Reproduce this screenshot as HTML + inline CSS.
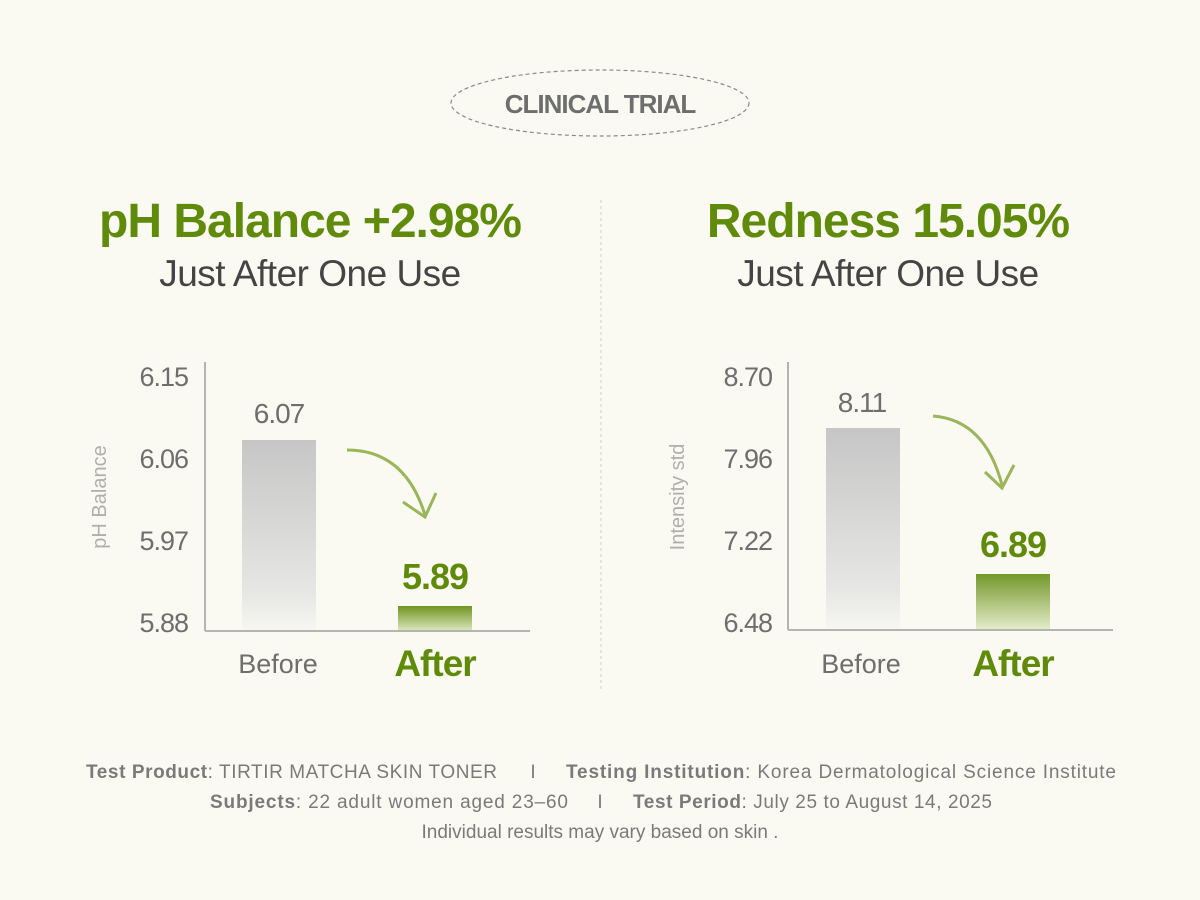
<!DOCTYPE html>
<html><head><meta charset="utf-8"><style>
body{margin:0;background:#fafaf3;}
svg{display:block;font-family:"Liberation Sans",sans-serif;}
</style></head><body>
<svg width="1200" height="900" viewBox="0 0 1200 900">
<defs>
<linearGradient id="g1" x1="0" y1="0" x2="0" y2="1"><stop offset="0" stop-color="#c6c6c6"/><stop offset="0.8" stop-color="#e6e6e4"/><stop offset="1" stop-color="#f6f6f2"/></linearGradient>
<linearGradient id="g2" x1="0" y1="0" x2="0" y2="1"><stop offset="0" stop-color="#6f9420"/><stop offset="1" stop-color="#d8e4b8"/></linearGradient>
<linearGradient id="g3" x1="0" y1="0" x2="0" y2="1"><stop offset="0" stop-color="#74982a"/><stop offset="1" stop-color="#e2ebc8"/></linearGradient>
</defs>
<rect width="1200" height="900" fill="#fafaf3"/>
<ellipse cx="600" cy="103" rx="149" ry="33" fill="none" stroke="#8a8a8a" stroke-width="1.2" stroke-dasharray="4,3"/>
<text x="600" y="113" text-anchor="middle" font-size="26" font-weight="bold" fill="#6e6e6e" letter-spacing="-1">CLINICAL TRIAL</text>
<line x1="601" y1="200" x2="601" y2="690" stroke="#d0d0c8" stroke-dasharray="3,3"/>
<text x="310" y="237" text-anchor="middle" font-size="48" font-weight="bold" fill="#5f8a0a" letter-spacing="-1">pH Balance +2.98%</text>
<text x="310" y="286" text-anchor="middle" font-size="37" fill="#444" letter-spacing="-0.5">Just After One Use</text>
<text x="888" y="237" text-anchor="middle" font-size="48" font-weight="bold" fill="#5f8a0a" letter-spacing="-1">Redness 15.05%</text>
<text x="888" y="286" text-anchor="middle" font-size="37" fill="#444" letter-spacing="-0.5">Just After One Use</text>
<!-- left chart -->
<g font-size="27" fill="#6e6e6e" text-anchor="end" letter-spacing="-1">
<text x="188" y="386">6.15</text><text x="188" y="468">6.06</text><text x="188" y="550">5.97</text><text x="188" y="632">5.88</text>
</g>
<text transform="translate(106,497) rotate(-90)" text-anchor="middle" font-size="20" fill="#b0b0aa">pH Balance</text>
<line x1="205" y1="362" x2="205" y2="631" stroke="#b5b5b0" stroke-width="2"/>
<line x1="205" y1="631" x2="530" y2="631" stroke="#b5b5b0" stroke-width="2"/>
<rect x="242" y="440" width="74" height="190" fill="url(#g1)"/>
<rect x="398" y="606" width="74" height="24" fill="url(#g2)"/>
<text x="279" y="423" text-anchor="middle" font-size="28" fill="#6e6e6e" letter-spacing="-1">6.07</text>
<text x="435" y="589" text-anchor="middle" font-size="36" font-weight="bold" fill="#5f8a0a" letter-spacing="-1">5.89</text>
<path d="M347 450 Q405 450 425 515" fill="none" stroke="#9ab55a" stroke-width="3"/>
<path d="M403 502 L425 517 L436 493" fill="none" stroke="#9ab55a" stroke-width="3"/>
<text x="278" y="673" text-anchor="middle" font-size="27" fill="#6e6e6e">Before</text>
<text x="435" y="676" text-anchor="middle" font-size="37" font-weight="bold" fill="#5f8a0a" letter-spacing="-1">After</text>
<!-- right chart -->
<g font-size="27" fill="#6e6e6e" text-anchor="end" letter-spacing="-1">
<text x="772" y="386">8.70</text><text x="772" y="468">7.96</text><text x="772" y="550">7.22</text><text x="772" y="632">6.48</text>
</g>
<text transform="translate(684,497) rotate(-90)" text-anchor="middle" font-size="20" fill="#b0b0aa">Intensity std</text>
<line x1="788" y1="362" x2="788" y2="630" stroke="#b5b5b0" stroke-width="2"/>
<line x1="788" y1="630" x2="1113" y2="630" stroke="#b5b5b0" stroke-width="2"/>
<rect x="826" y="428" width="74" height="201" fill="url(#g1)"/>
<rect x="976" y="574" width="74" height="55" fill="url(#g3)"/>
<text x="862" y="412" text-anchor="middle" font-size="28" fill="#6e6e6e" letter-spacing="-1">8.11</text>
<text x="1013" y="557" text-anchor="middle" font-size="36" font-weight="bold" fill="#5f8a0a" letter-spacing="-1">6.89</text>
<path d="M933 416 Q985 420 1002 485" fill="none" stroke="#9ab55a" stroke-width="3"/>
<path d="M985 472 L1002 488 L1014 465" fill="none" stroke="#9ab55a" stroke-width="3"/>
<text x="861" y="673" text-anchor="middle" font-size="27" fill="#6e6e6e">Before</text>
<text x="1013" y="676" text-anchor="middle" font-size="37" font-weight="bold" fill="#5f8a0a" letter-spacing="-1">After</text>
<!-- footer -->
<g font-size="19" fill="#7a7a7a">
<text x="86" y="778" textLength="411"><tspan font-weight="bold">Test Product</tspan>: TIRTIR MATCHA SKIN TONER</text>
<text x="533" y="778" text-anchor="middle">I</text>
<text x="566" y="778" textLength="550"><tspan font-weight="bold">Testing Institution</tspan>: Korea Dermatological Science Institute</text>
<text x="210" y="808" textLength="358"><tspan font-weight="bold">Subjects</tspan>: 22 adult women aged 23–60</text>
<text x="600" y="808" text-anchor="middle">I</text>
<text x="633" y="808" textLength="359"><tspan font-weight="bold">Test Period</tspan>: July 25 to August 14, 2025</text>
<text x="600" y="838" text-anchor="middle">Individual results may vary based on skin .</text>
</g>
</svg>
</body></html>
